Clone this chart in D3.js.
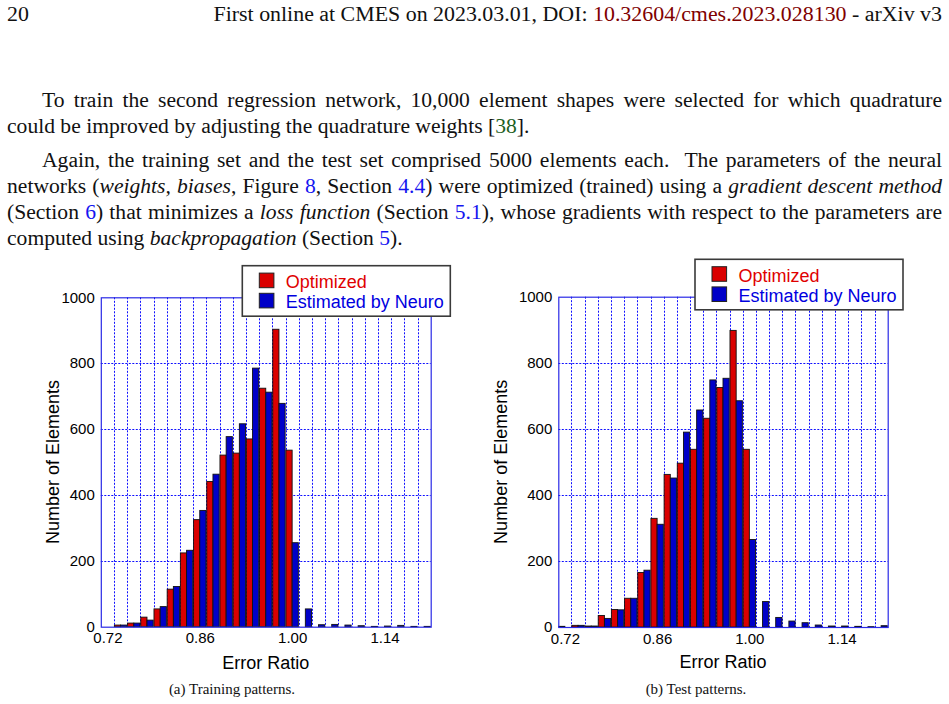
<!DOCTYPE html>
<html>
<head>
<meta charset="utf-8">
<script src="https://cdn.jsdelivr.net/npm/d3@7"></script>
<style>
  html, body { margin: 0; padding: 0; background: #fff; }
  body { width: 949px; height: 704px; position: relative; overflow: hidden; }
  .line {
    position: absolute; left: 7px; width: 935px;
    font-family: "Liberation Serif", "Times New Roman", serif;
    font-size: 21.6px; line-height: 26px; color: #111;
    white-space: nowrap;
  }
  .just { text-align: justify; text-align-last: justify; white-space: normal; }
  .ind { text-indent: 35px; }
  .ref { color: #1515f0; }
  .cite { color: #1f5f1f; }
  .doi { color: #800000; }
  #page { position: absolute; left: 0; top: 0; }
</style>
</head>
<body>
<div class="line" style="top:0.5px; font-size:21.9px; display:flex; justify-content:space-between;">
  <span>20</span>
  <span>First online at CMES on 2023.03.01, DOI: <span class="doi">10.32604/cmes.2023.028130</span> - arXiv v3</span>
</div>
<div class="line just ind" style="top:86.5px;">To train the second regression network, 10,000 element shapes were selected for which quadrature</div>
<div class="line" style="top:113px;">could be improved by adjusting the quadrature weights [<span class="cite">38</span>].</div>
<div class="line just ind" style="top:146.5px;">Again, the training set and the test set comprised 5000 elements each.&nbsp; The parameters of the neural</div>
<div class="line just" style="top:172.7px;">networks (<i>weights, biases</i>, Figure <span class="ref">8</span>, Section <span class="ref">4.4</span>) were optimized (trained) using a <i>gradient descent method</i></div>
<div class="line just" style="top:198.9px;">(Section <span class="ref">6</span>) that minimizes a <i>loss function</i> (Section <span class="ref">5.1</span>), whose gradients with respect to the parameters are</div>
<div class="line" style="top:225.1px;">computed using <i>backpropagation</i> (Section <span class="ref">5</span>).</div>

<svg id="page" width="949" height="704"></svg>

<script>
// histogram bins (centres of the error-ratio classes)
const binCenters = [0.72, 0.74, 0.76, 0.78, 0.80, 0.82, 0.84, 0.86, 0.88, 0.90, 0.92, 0.94, 0.96,
                    0.98, 1.00, 1.02, 1.04, 1.06, 1.08, 1.10, 1.12, 1.14, 1.16, 1.18, 1.20];

// (a) training patterns
const trainOptimized = [0, 5, 11, 29, 54, 114, 224, 325, 441, 521, 527, 570, 724,
                        903, 536, 0, 0, 0, 0, 0, 0, 0, 0, 0, 0];
const trainNeuro     = [0, 5, 11, 20, 61, 122, 232, 353, 463, 577, 616, 785, 712,
                        678, 255, 54, 6, 7, 5, 3, 1, 2, 4, 1, 1];

// (b) test patterns
const testOptimized  = [2, 5, 3, 35, 53, 87, 165, 329, 462, 496, 538, 632, 725,
                        898, 538, 0, 0, 0, 0, 0, 0, 0, 0, 0, 0];
const testNeuro      = [0, 5, 3, 26, 52, 87, 172, 311, 451, 590, 657, 748, 753,
                        685, 265, 77, 29, 18, 13, 6, 3, 3, 2, 1, 4];

const xTicks = [0.72, 0.86, 1.00, 1.14];
const yTicks = [0, 200, 400, 600, 800, 1000];
const seriesNames = ["Optimized", "Estimated by Neuro"];

const RED  = "#da0000";
const BLUE = "#0000c8";
const GRID = "#1010ff";
const SANS = "'Liberation Sans', Arial, Helvetica, sans-serif";

const svg = d3.select("#page");

const drawChart = (cfg) => {
  const { left, right, top, bottom, optimized, neuro } = cfg;
  const g = svg.append("g");

  const x = d3.scaleLinear().domain([0.71, 1.21]).range([left, right]);
  const y = d3.scaleLinear().domain([0, 1000]).range([bottom, top]);

  // dotted grid: bin edges and the inner y ticks
  const edges = binCenters.slice(0, -1).map(c => c + 0.01);
  g.append("g").selectAll("line").data(edges)
    .enter().append("line")
      .attr("x1", d => Math.round(x(d)) + 0.5).attr("x2", d => Math.round(x(d)) + 0.5)
      .attr("y1", top).attr("y2", bottom)
      .attr("stroke", GRID).attr("stroke-width", 1)
      .attr("stroke-dasharray", "2,1.5");
  g.append("g").selectAll("line").data(yTicks.slice(1, -1))
    .enter().append("line")
      .attr("x1", left).attr("x2", right)
      .attr("y1", d => Math.round(y(d)) + 0.5).attr("y2", d => Math.round(y(d)) + 0.5)
      .attr("stroke", GRID).attr("stroke-width", 1)
      .attr("stroke-dasharray", "2,1.5");

  // bars
  const binW = x(0.02) - x(0);
  const bw = (binW - 0.8) / 2;
  const bars = g.append("g").attr("stroke", "#111").attr("stroke-width", 0.9);
  const rows = binCenters.map((c, i) => ({ c, o: optimized[i], n: neuro[i] }));
  bars.selectAll("rect.opt").data(rows.filter(d => d.o > 0))
    .enter().append("rect").attr("class", "opt")
      .attr("x", d => x(d.c - 0.01) + 0.4)
      .attr("y", d => y(d.o))
      .attr("width", bw)
      .attr("height", d => y(0) - y(d.o))
      .attr("fill", RED);
  bars.selectAll("rect.neu").data(rows.filter(d => d.n > 0))
    .enter().append("rect").attr("class", "neu")
      .attr("x", d => x(d.c - 0.01) + 0.4 + bw)
      .attr("y", d => y(d.n))
      .attr("width", bw)
      .attr("height", d => y(0) - y(d.n))
      .attr("fill", BLUE);

  // frame
  g.append("rect")
    .attr("x", left + 0.5).attr("y", top + 0.5)
    .attr("width", right - left).attr("height", bottom - top)
    .attr("fill", "none").attr("stroke", "#2a2ae6").attr("stroke-width", 1.2);

  // axes (labels only)
  const xAxis = g.append("g").attr("transform", `translate(0,${bottom})`)
    .call(d3.axisBottom(x).tickValues(xTicks).tickFormat(d3.format(".2f")).tickSize(0).tickPadding(6));
  const yAxis = g.append("g").attr("transform", `translate(${left},0)`)
    .call(d3.axisLeft(y).tickValues(yTicks).tickFormat(d3.format("d")).tickSize(0).tickPadding(6));
  [xAxis, yAxis].forEach(a => {
    a.select(".domain").remove();
    a.attr("font-family", SANS).attr("font-size", 15);
    a.selectAll("text").attr("fill", "#000");
  });

  // axis titles
  g.append("text")
    .attr("x", (left + right) / 2).attr("y", cfg.xTitleY)
    .attr("text-anchor", "middle")
    .attr("font-family", SANS).attr("font-size", 18)
    .text("Error Ratio");
  g.append("text")
    .attr("transform", `translate(${cfg.yTitleX},${(top + bottom) / 2}) rotate(-90)`)
    .attr("text-anchor", "middle")
    .attr("font-family", SANS).attr("font-size", 18)
    .text("Number of Elements");

  // legend
  const lg = g.append("g").attr("transform", `translate(${cfg.legendX},${cfg.legendY})`);
  lg.append("rect")
    .attr("width", 208).attr("height", 50.5)
    .attr("fill", "#fff").attr("stroke", "#3a3a3a").attr("stroke-width", 1.6);
  const items = lg.selectAll("g.item").data(seriesNames)
    .enter().append("g").attr("class", "item")
      .attr("transform", (d, i) => `translate(17,${7.4 + i * 20.2})`);
  items.append("rect")
    .attr("width", 14.6).attr("height", 14.6)
    .attr("fill", (d, i) => i === 0 ? RED : BLUE)
    .attr("stroke", "#222").attr("stroke-width", 1);
  items.append("text")
    .attr("x", 26.4).attr("y", 15)
    .attr("font-family", SANS).attr("font-size", 18)
    .attr("fill", (d, i) => i === 0 ? "#e00000" : "#0000e0")
    .text(d => d);

  // sub-caption
  g.append("text")
    .attr("x", cfg.captionX).attr("y", 694)
    .attr("text-anchor", "middle")
    .attr("font-family", "'Liberation Serif', 'Times New Roman', serif")
    .attr("font-size", 15).attr("fill", "#111")
    .text(cfg.caption);
};

drawChart({
  left: 100.8, right: 430.7, top: 297.3, bottom: 626.7,
  optimized: trainOptimized, neuro: trainNeuro,
  xTitleY: 669, yTitleX: 59.3,
  legendX: 242.3, legendY: 265.7,
  caption: "(a) Training patterns.", captionX: 232
});

drawChart({
  left: 558.3, right: 887.7, top: 296.7, bottom: 627,
  optimized: testOptimized, neuro: testNeuro,
  xTitleY: 668, yTitleX: 506.7,
  legendX: 695, legendY: 259.3,
  caption: "(b) Test patterns.", captionX: 696
});
</script>
</body>
</html>
